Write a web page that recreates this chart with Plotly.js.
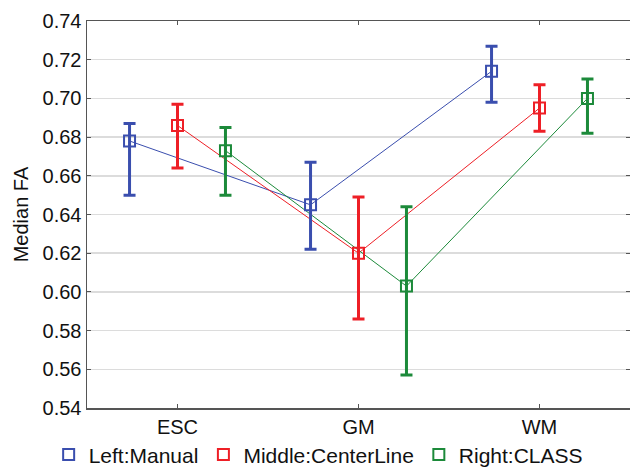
<!DOCTYPE html>
<html>
<head>
<meta charset="utf-8">
<script src="https://cdn.plot.ly/plotly-3.0.1.min.js"></script>
<style>html,body{margin:0;padding:0;background:#fff;}#chart{width:630px;height:469px;}</style>
</head>
<body>
<div id="chart"></div>
<script>
// Data
const categories = ["ESC", "GM", "WM"];
const seriesNames = ["Left:Manual", "Middle:CenterLine", "Right:CLASS"];
const manualMedian = [0.678, 0.645, 0.714];
const manualLow = [0.650, 0.622, 0.698];
const manualHigh = [0.687, 0.667, 0.727];
const centerMedian = [0.686, 0.620, 0.695];
const centerLow = [0.664, 0.586, 0.683];
const centerHigh = [0.697, 0.649, 0.707];
const classMedian = [0.673, 0.603, 0.700];
const classLow = [0.650, 0.557, 0.682];
const classHigh = [0.685, 0.644, 0.710];
const yTicks = [0.54, 0.56, 0.58, 0.60, 0.62, 0.64, 0.66, 0.68, 0.70, 0.72, 0.74];

const colors = ["#3a4eae", "#ee1f26", "#1c8a3a"];
const offsets = [-0.265, 0, 0.265];
const series = [
  {med: manualMedian, lo: manualLow, hi: manualHigh},
  {med: centerMedian, lo: centerLow, hi: centerHigh},
  {med: classMedian, lo: classLow, hi: classHigh}
];

const traces = [];
series.forEach((s, k) => {
  const xs = categories.map((c, i) => i + offsets[k]);
  traces.push({
    x: xs, y: s.med, type: "scatter", mode: "lines",
    line: {color: colors[k], width: 1}, showlegend: false, hoverinfo: "skip"
  });
});
series.forEach((s, k) => {
  const xs = categories.map((c, i) => i + offsets[k]);
  traces.push({
    x: xs, y: s.med, type: "scatter", mode: "markers", name: seriesNames[k],
    marker: {symbol: "square-open", size: 11, color: colors[k], line: {width: 2, color: colors[k]}},
    error_y: {
      type: "data", symmetric: false,
      array: s.hi.map((h, i) => h - s.med[i]),
      arrayminus: s.lo.map((l, i) => s.med[i] - l),
      color: colors[k], thickness: 3, width: 6
    }
  });
});

const font = {family: "Liberation Sans, Arial, sans-serif", size: 20, color: "#111"};
const layout = {
  width: 630, height: 469,
  margin: {l: 87, r: 0, t: 21, b: 61},
  paper_bgcolor: "#fff", plot_bgcolor: "#fff",
  font: font,
  showlegend: true,
  legend: {
    orientation: "h", xref: "container", yref: "container",
    x: 0.505, xanchor: "center", y: 0.03, yanchor: "middle",
    font: {family: font.family, size: 21, color: "#111"},
    itemwidth: 30, tracegroupgap: 0
  },
  xaxis: {
    range: [-0.5, 2.5], tickvals: [0, 1, 2], ticktext: categories,
    showgrid: false, zeroline: false,
    showline: true, linecolor: "#555", linewidth: 1.5, mirror: "ticks",
    ticks: "inside", ticklen: 4, tickcolor: "#555",
    tickfont: font
  },
  yaxis: {
    range: [0.54, 0.74], tickvals: yTicks, tickformat: ".2f",
    showgrid: true, gridcolor: "#dcdcdc", gridwidth: 1.5, zeroline: false,
    showline: true, linecolor: "#555", linewidth: 1.5, mirror: "ticks",
    ticks: "inside", ticklen: 4, tickcolor: "#555",
    tickfont: font,
    title: {text: "Median FA", font: font, standoff: 8}
  }
};
Plotly.newPlot("chart", traces, layout, {displayModeBar: false, staticPlot: true});
</script>
</body>
</html>
